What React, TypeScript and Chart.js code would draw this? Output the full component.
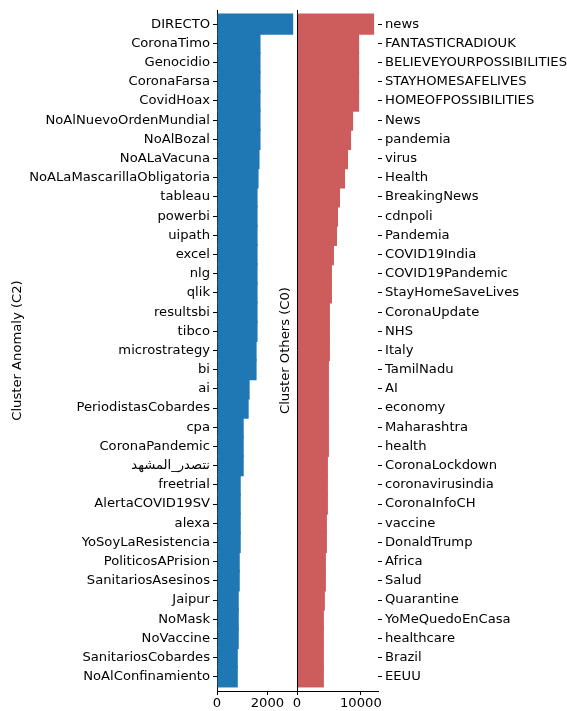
import React, { useEffect, useRef } from "react";
import { Chart, registerables } from "chart.js";

Chart.register(...registerables);

const anomalyLabels = [
  "DIRECTO", "CoronaTimo", "Genocidio", "CoronaFarsa", "CovidHoax",
  "NoAlNuevoOrdenMundial", "NoAlBozal", "NoALaVacuna", "NoALaMascarillaObligatoria",
  "tableau", "powerbi", "uipath", "excel", "nlg", "qlik", "resultsbi", "tibco",
  "microstrategy", "bi", "ai", "PeriodistasCobardes", "cpa", "CoronaPandemic",
  "نتصدر_المشهد", "freetrial", "AlertaCOVID19SV", "alexa", "YoSoyLaResistencia",
  "PoliticosAPrision", "SanitariosAsesinos", "Jaipur", "NoMask", "NoVaccine",
  "SanitariosCobardes", "NoAlConfinamiento",
];
const anomalyValues = [
  3020, 1725, 1725, 1725, 1725, 1725, 1725, 1686, 1647,
  1608, 1608, 1608, 1608, 1608, 1608, 1608, 1608,
  1569, 1569, 1294, 1255, 1059, 1059, 1059,
  941, 941, 941, 941, 902, 902, 863, 863, 863, 824, 824,
];

const othersLabels = [
  "news", "FANTASTICRADIOUK", "BELIEVEYOURPOSSIBILITIES", "STAYHOMESAFELIVES",
  "HOMEOFPOSSIBILITIES", "News", "pandemia", "virus", "Health", "BreakingNews",
  "cdnpoli", "Pandemia", "COVID19India", "COVID19Pandemic", "StayHomeSaveLives",
  "CoronaUpdate", "NHS", "Italy", "TamilNadu", "AI", "economy", "Maharashtra",
  "health", "CoronaLockdown", "coronavirusindia", "CoronaInfoCH", "vaccine",
  "DonaldTrump", "Africa", "Salud", "Quarantine", "YoMeQuedoEnCasa", "healthcare",
  "Brazil", "EEUU",
];
const othersValues = [
  12080, 9732, 9732, 9732, 9732, 8785, 8470, 7997, 7524, 6735,
  6420, 6262, 5789, 5473, 5473, 5158, 5158, 5158, 5000, 5000,
  5000, 5000, 5000, 4842, 4842, 4842, 4685, 4685, 4527, 4527,
  4370, 4212, 4212, 4212, 4212,
];

const anomalyTicks = [0, 2000];
const othersTicks = [0, 10000];

const anomalyTitle = "Cluster Anomaly (C2)";
const othersTitle = "Cluster Others (C0)";

const FONT = "'DejaVu Sans', sans-serif";
const FONT_SIZE = 13.15;
const TEXT = "#000000";

function yAxis(labels: string[], position: "left" | "right", width: number, title?: string) {
  const n = labels.length;
  return {
    type: "linear" as const,
    position,
    reverse: true,
    offset: false,
    min: -0.74,
    max: n - 1 + 0.74,
    afterBuildTicks: (s: any) => {
      s.ticks = labels.map((_, i) => ({ value: i }));
    },
    afterFit: (s: any) => {
      s.width = width;
      s.paddingTop = 0;
      s.paddingBottom = 0;
    },
    ticks: {
      autoSkip: false,
      padding: 3,
      color: TEXT,
      font: { family: FONT, size: FONT_SIZE },
      callback: (v: any) => labels[v] ?? "",
    },
    grid: { display: true, offset: false, drawOnChartArea: false, drawTicks: true, tickLength: 4, color: "#000", lineWidth: 1 },
    border: { display: position === "left", color: "#000", width: 1 },
    title: title
      ? { display: true, text: title, color: TEXT, font: { family: FONT, size: FONT_SIZE }, padding: { top: 10, bottom: 0 } }
      : { display: false },
  };
}

function xAxis(values: number[], ticks: number[]) {
  return {
    type: "linear" as const,
    position: "bottom" as const,
    offset: false,
    min: 0,
    max: Math.max(...values) * 1.05,
    afterBuildTicks: (s: any) => {
      s.ticks = ticks.map((v) => ({ value: v }));
    },
    afterFit: (s: any) => {
      s.height = 20;
      s.paddingLeft = 0;
      s.paddingRight = 0;
    },
    ticks: {
      includeBounds: false,
      padding: 1,
      color: TEXT,
      font: { family: FONT, size: FONT_SIZE },
      maxRotation: 0,
      callback: (v: any) => String(v),
    },
    grid: { display: true, drawOnChartArea: false, drawTicks: true, tickLength: 4, color: "#000", lineWidth: 1 },
    border: { display: true, color: "#000", width: 1 },
  };
}

const leftSpineAndTitle = {
  id: "leftSpineAndTitle",
  afterDraw(chart: any) {
    const { ctx, chartArea } = chart;
    ctx.save();
    ctx.strokeStyle = "#000";
    ctx.lineWidth = 1;
    const x = Math.round(chartArea.left) + 0.5;
    ctx.beginPath();
    ctx.moveTo(x, chartArea.top);
    ctx.lineTo(x, chartArea.bottom);
    ctx.stroke();
    ctx.translate(16, (chartArea.top + chartArea.bottom) / 2);
    ctx.rotate(-Math.PI / 2);
    ctx.fillStyle = TEXT;
    ctx.font = `${FONT_SIZE}px ${FONT}`;
    ctx.textAlign = "center";
    ctx.textBaseline = "middle";
    ctx.fillText(othersTitle, 0, 0);
    ctx.restore();
  },
};

export default function App() {
  const leftRef = useRef<HTMLCanvasElement>(null);
  const rightRef = useRef<HTMLCanvasElement>(null);

  useEffect(() => {
    const left = new Chart(leftRef.current!, {
      type: "bar",
      data: {
        datasets: [
          {
            data: anomalyValues.map((v, i) => ({ x: v, y: i })),
            backgroundColor: "#1f77b4",
            borderWidth: 0,
            barPercentage: 1.11,
            categoryPercentage: 1,
          },
        ],
      },
      options: {
        indexAxis: "y",
        animation: false,
        responsive: false,
        maintainAspectRatio: false,
        layout: { padding: { top: 10, right: 0, left: 0, bottom: 0 } },
        plugins: { legend: { display: false }, tooltip: { enabled: false } },
        scales: {
          x: xAxis(anomalyValues, anomalyTicks) as any,
          y: yAxis(anomalyLabels, "left", 217, anomalyTitle) as any,
        },
      },
    });

    const right = new Chart(rightRef.current!, {
      type: "bar",
      data: {
        datasets: [
          {
            data: othersValues.map((v, i) => ({ x: v, y: i })),
            backgroundColor: "#cd5c5c",
            borderWidth: 0,
            barPercentage: 1.11,
            categoryPercentage: 1,
          },
        ],
      },
      options: {
        indexAxis: "y",
        animation: false,
        responsive: false,
        maintainAspectRatio: false,
        layout: { padding: { top: 10, right: 0, left: 27, bottom: 0 } },
        plugins: { legend: { display: false }, tooltip: { enabled: false } },
        scales: {
          x: xAxis(othersValues, othersTicks) as any,
          y: yAxis(othersLabels, "right", 189) as any,
        },
      },
      plugins: [leftSpineAndTitle],
    });

    return () => {
      left.destroy();
      right.destroy();
    };
  }, []);

  return (
    <div style={{ position: "fixed", left: 0, top: 0, width: 567, height: 711, background: "#fff" }}>
      <canvas
        ref={leftRef}
        width={297}
        height={711}
        style={{ position: "absolute", left: 0, top: 0, width: 297, height: 711 }}
      />
      <canvas
        ref={rightRef}
        width={297}
        height={711}
        style={{ position: "absolute", left: 270, top: 0, width: 297, height: 711 }}
      />
    </div>
  );
}
